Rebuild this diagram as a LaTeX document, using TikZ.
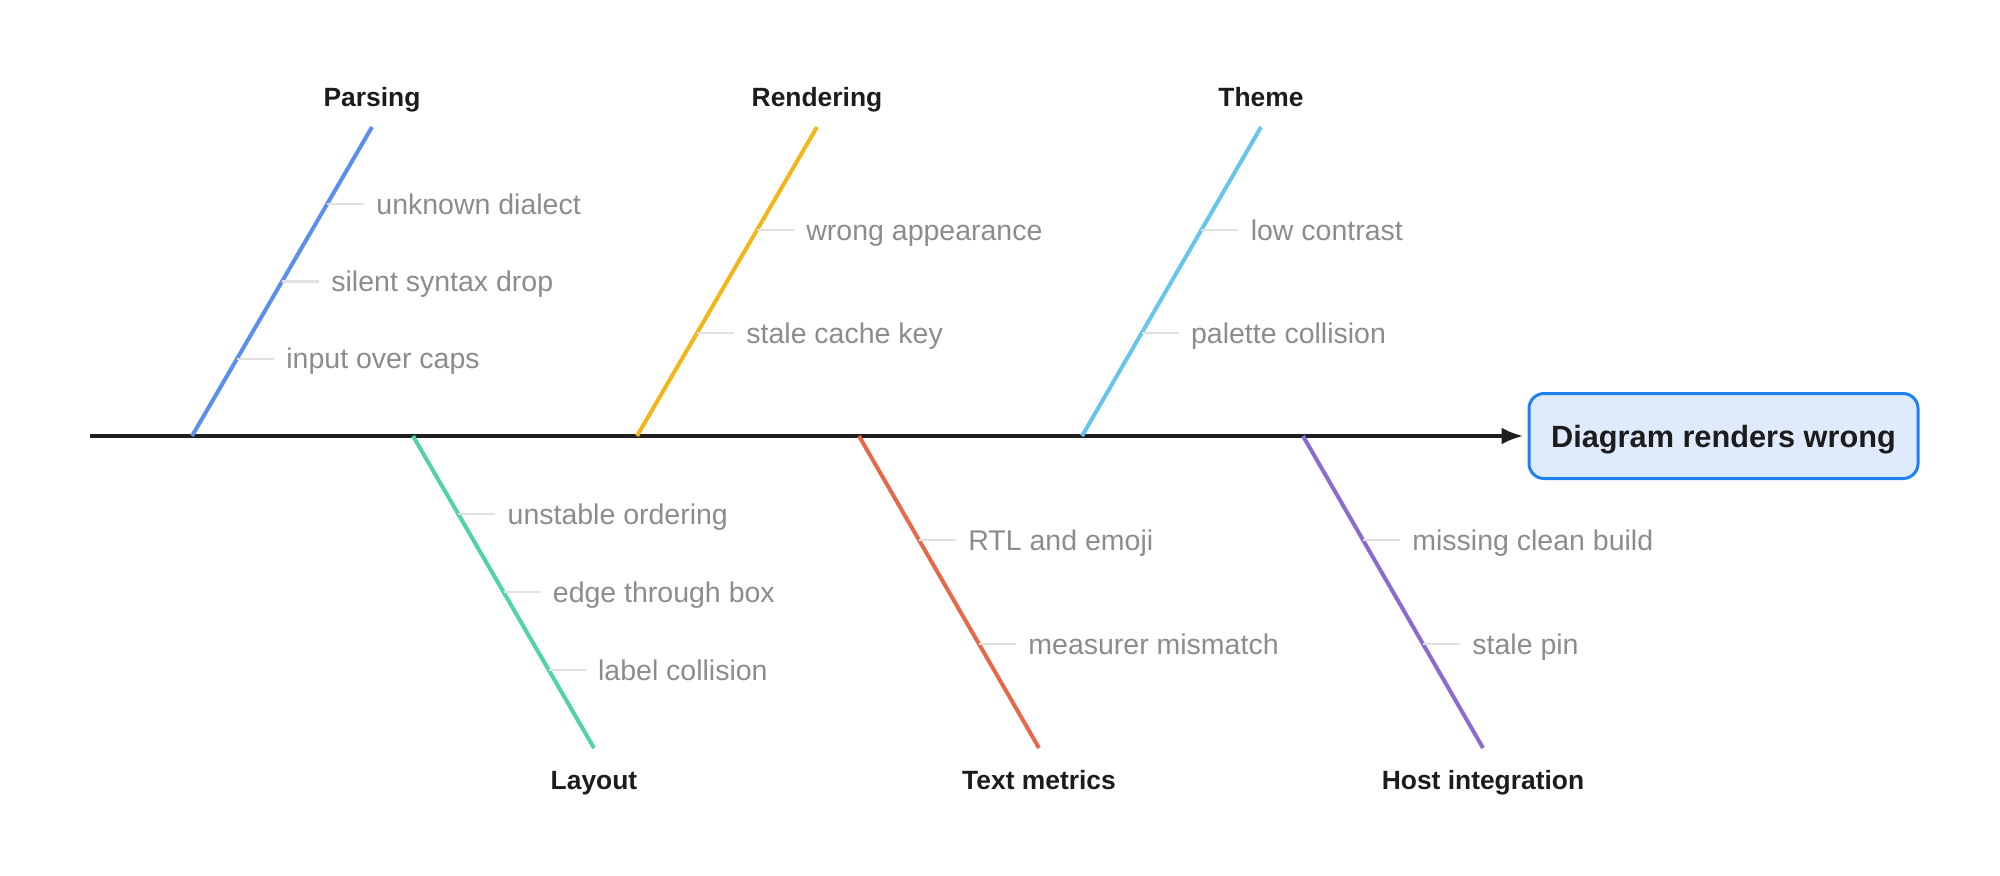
\documentclass[tikz,border=0pt]{standalone}
\usepackage{fontspec}
\setmainfont{Liberation Sans}
\usetikzlibrary{calc,arrows.meta}
\definecolor{spinec}{HTML}{1F1F1F}
\definecolor{tickc}{HTML}{E0E0E0}
\definecolor{subc}{HTML}{8C8C8C}
\definecolor{labc}{HTML}{1C1C1C}
\definecolor{cParsing}{HTML}{5A8FF0}
\definecolor{cRendering}{HTML}{F2B619}
\definecolor{cTheme}{HTML}{66C5EA}
\definecolor{cLayout}{HTML}{50D4A0}
\definecolor{cText}{HTML}{E8684A}
\definecolor{cHost}{HTML}{8A6BCF}
\definecolor{boxfill}{HTML}{DFEAFD}
\definecolor{boxdraw}{HTML}{1E80F5}
\begin{document}
\begin{tikzpicture}[x=0.5pt,y=-0.5pt,
  spine/.style={line width=2pt,draw=spinec,-{Latex[length=11pt,width=8.5pt]},shorten >=2pt},
  bone/.style={line width=2pt},
  tickline/.style={line width=1.2pt,draw=tickc},
  sub/.style={anchor=west,inner sep=0pt,text height=10.2pt,text depth=0pt,text=subc,font=\fontsize{14.25pt}{16pt}\selectfont},
  cause/.style={anchor=base,inner sep=0pt,text=labc,font=\fontsize{13.2pt}{15pt}\selectfont\bfseries},
  effect/.style={draw=boxdraw,fill=boxfill,line width=1.5pt,rounded corners=7.5pt,
    minimum width=194.5pt,minimum height=42.5pt,inner sep=0pt,text height=11pt,text depth=0pt,
    text=labc,font=\fontsize{15.35pt}{17pt}\selectfont\bfseries}]
\useasboundingbox (0,0) rectangle (2000,875);

% effect and spine
\node[effect] (effect) at (1723.5,436) {Diagram renders wrong};
\coordinate (s0) at (90,436);
\draw[spine] (s0) -- (effect.west);

% ---------- Parsing (upper)
\coordinate (b1) at (192,436);
\coordinate (e1) at (372,127);
\node[cause] (l1) at (372,106) {Parsing};
\draw[bone,draw=cParsing] (b1) -- (e1);
\coordinate (p1a) at ($(b1)!0.75!(e1)$);
\coordinate (p1b) at ($(b1)!0.5!(e1)$);
\coordinate (p1c) at ($(b1)!0.25!(e1)$);
\node[sub] (t1a) at ($(p1a)+(49,0)$) {unknown dialect};
\node[sub] (t1b) at ($(p1b)+(49,0)$) {silent syntax drop};
\node[sub] (t1c) at ($(p1c)+(49,0)$) {input over caps};
\draw[tickline] (p1a) -- ($(t1a.west)+(-12,0)$);
\draw[tickline] (p1b) -- ($(t1b.west)+(-12,0)$);
\draw[tickline] (p1c) -- ($(t1c.west)+(-12,0)$);

% ---------- Layout (lower)
\coordinate (b2) at (413,436);
\coordinate (e2) at (594,748);
\node[cause] (l2) at (594,789) {Layout};
\draw[bone,draw=cLayout] (b2) -- (e2);
\coordinate (p2a) at ($(b2)!0.25!(e2)$);
\coordinate (p2b) at ($(b2)!0.5!(e2)$);
\coordinate (p2c) at ($(b2)!0.75!(e2)$);
\node[sub] (t2a) at ($(p2a)+(49,0)$) {unstable ordering};
\node[sub] (t2b) at ($(p2b)+(49,0)$) {edge through box};
\node[sub] (t2c) at ($(p2c)+(49,0)$) {label collision};
\draw[tickline] (p2a) -- ($(t2a.west)+(-12,0)$);
\draw[tickline] (p2b) -- ($(t2b.west)+(-12,0)$);
\draw[tickline] (p2c) -- ($(t2c.west)+(-12,0)$);

% ---------- Rendering (upper)
\coordinate (b3) at (637,436);
\coordinate (e3) at (817,127);
\node[cause] (l3) at (817,106) {Rendering};
\draw[bone,draw=cRendering] (b3) -- (e3);
\coordinate (p3a) at ($(b3)!0.6667!(e3)$);
\coordinate (p3b) at ($(b3)!0.3333!(e3)$);
\node[sub] (t3a) at ($(p3a)+(49,0)$) {wrong appearance};
\node[sub] (t3b) at ($(p3b)+(49,0)$) {stale cache key};
\draw[tickline] (p3a) -- ($(t3a.west)+(-12,0)$);
\draw[tickline] (p3b) -- ($(t3b.west)+(-12,0)$);

% ---------- Text metrics (lower)
\coordinate (b4) at (859,436);
\coordinate (e4) at (1039,748);
\node[cause] (l4) at (1039,789) {Text metrics};
\draw[bone,draw=cText] (b4) -- (e4);
\coordinate (p4a) at ($(b4)!0.3333!(e4)$);
\coordinate (p4b) at ($(b4)!0.6667!(e4)$);
\node[sub] (t4a) at ($(p4a)+(49,0)$) {RTL and emoji};
\node[sub] (t4b) at ($(p4b)+(49,0)$) {measurer mismatch};
\draw[tickline] (p4a) -- ($(t4a.west)+(-12,0)$);
\draw[tickline] (p4b) -- ($(t4b.west)+(-12,0)$);

% ---------- Theme (upper)
\coordinate (b5) at (1082,436);
\coordinate (e5) at (1261,127);
\node[cause] (l5) at (1261,106) {Theme};
\draw[bone,draw=cTheme] (b5) -- (e5);
\coordinate (p5a) at ($(b5)!0.6667!(e5)$);
\coordinate (p5b) at ($(b5)!0.3333!(e5)$);
\node[sub] (t5a) at ($(p5a)+(49,0)$) {low contrast};
\node[sub] (t5b) at ($(p5b)+(49,0)$) {palette collision};
\draw[tickline] (p5a) -- ($(t5a.west)+(-12,0)$);
\draw[tickline] (p5b) -- ($(t5b.west)+(-12,0)$);

% ---------- Host integration (lower)
\coordinate (b6) at (1303,436);
\coordinate (e6) at (1483,748);
\node[cause] (l6) at (1483,789) {Host integration};
\draw[bone,draw=cHost] (b6) -- (e6);
\coordinate (p6a) at ($(b6)!0.3333!(e6)$);
\coordinate (p6b) at ($(b6)!0.6667!(e6)$);
\node[sub] (t6a) at ($(p6a)+(49,0)$) {missing clean build};
\node[sub] (t6b) at ($(p6b)+(49,0)$) {stale pin};
\draw[tickline] (p6a) -- ($(t6a.west)+(-12,0)$);
\draw[tickline] (p6b) -- ($(t6b.west)+(-12,0)$);
\end{tikzpicture}
\end{document}
